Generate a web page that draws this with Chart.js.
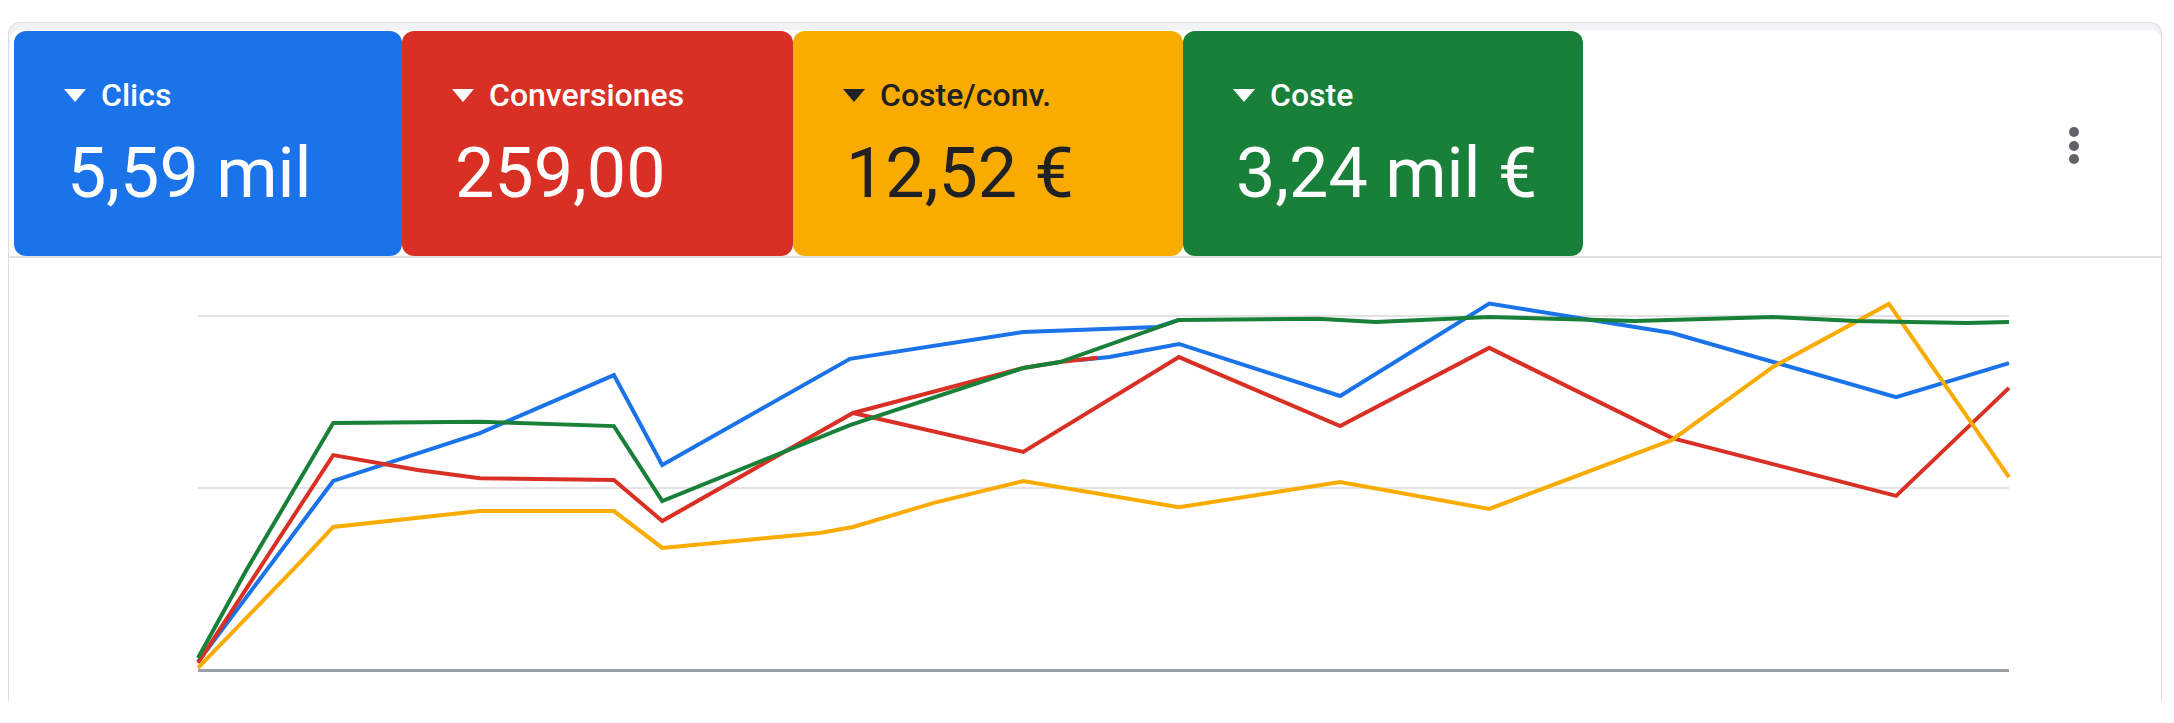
<!DOCTYPE html>
<html>
<head>
<meta charset="utf-8">
<script src="https://cdn.jsdelivr.net/npm/chart.js@4"></script>
<style>
  html, body { margin:0; padding:0; background:#fff; width:2174px; height:723px; overflow:hidden; font-family: Roboto, "Noto Sans", sans-serif; }
  .frame { position:absolute; left:8px; top:22px; width:2152px; height:678px; border:1px solid #dadce0; border-bottom:none; border-radius:12px 12px 0 0; background:#fff; box-shadow: inset 0 7px 0 #f1f3f4; }
  .card { position:absolute; top:31px; height:225px; border-radius:12px; }
  .card .tri { position:absolute; left:50px; top:58px; width:0; height:0; border-left:11px solid transparent; border-right:11px solid transparent; border-top:13px solid #fff; }
  .card .lab { position:absolute; left:87px; top:48px; font-size:32px; line-height:32px; font-weight:500; color:#fff; white-space:nowrap; }
  .card .val { position:absolute; left:53px; top:107px; font-size:70px; line-height:70px; color:#fff; white-space:nowrap; }
  .card.dark .lab, .card.dark .val { color:#202124; }
  .card.dark .tri { border-top-color:#202124; }
  .divider { position:absolute; left:9px; top:256px; width:2152px; height:2px; background:#e3e3e3; }
  .dot { position:absolute; left:2069px; width:10px; height:10px; border-radius:50%; background:#5f6368; }
  #wrap { position:absolute; left:0; top:260px; width:2174px; height:463px; }
</style>
</head>
<body>
<div class="frame"></div>
<div id="cards"></div>
<div class="divider"></div>
<div class="dot" style="top:127px"></div>
<div class="dot" style="top:141px"></div>
<div class="dot" style="top:154px"></div>
<div id="wrap"><canvas id="chart" width="2174" height="463"></canvas></div>
<script>
// tarjetas de métricas
const metricas = ['Clics', 'Conversiones', 'Coste/conv.', 'Coste'];
const totales = ['5,59 mil', '259,00', '12,52 €', '3,24 mil €'];
const colores = ['#1a73e8', '#d93025', '#f9ab00', '#188038'];

// series (x = día, y = valor relativo; null corta la línea)
const clicsDias = [0, 2.24, 4.67, 6.89, 7.69, 10.8, 13.67, 15.89, 16.25, 16.25, 14.6, 15.1, 16.25, 18.92, 21.39, 24.42, 28.13, 30];
const clicsVal  = [2.3, 53.4, 66.9, 83.3, 57.9, 87.9, 95.5, 96.9, 98.9, null, 87.6, 88.4, 92.1, 77.4, 103.5, 95.2, 77.1, 86.7];

const convDias = [0, 2.24, 3.64, 4.67, 6.89, 7.69, 10.85, 13.67, 16.25, 18.92, 21.39, 24.42, 28.13, 30, 30, 10.85, 13.67, 14.28, 14.9];
const convVal  = [2.0, 60.7, 56.5, 54.2, 53.7, 42.1, 72.6, 61.6, 88.4, 68.9, 91.0, 65.5, 49.2, 79.7, null, 72.6, 85.3, 87.0, 88.2];

const costeConvDias = [0, 1.73, 2.24, 4.67, 6.89, 7.69, 10.3, 10.85, 12.19, 13.67, 16.25, 18.92, 21.39, 24.42, 26.09, 28.01, 30];
const costeConvVal  = [0.6, 31.1, 40.4, 44.9, 44.9, 34.5, 38.7, 40.4, 47.2, 53.4, 46.0, 53.1, 45.5, 65.0, 85.6, 103.4, 54.5];

const costeDias = [0, 0.8, 2.24, 4.67, 6.89, 7.69, 10.8, 13.67, 14.28, 16.25, 18.55, 19.51, 21.39, 23.8, 26.09, 27.46, 29.3, 30];
const costeVal  = [3.4, 28.2, 69.8, 70.1, 68.9, 47.7, 69.2, 85.3, 87.0, 98.9, 99.2, 98.3, 99.7, 98.6, 99.7, 98.6, 98.0, 98.3];

const yTicks = [0, 51.4, 100];

const cardLeft = [14, 402, 793, 1183];
const cardWidth = [388, 391, 390, 400];

const cards = document.getElementById('cards');
metricas.forEach((m,i)=>{
  const c = document.createElement('div');
  c.className = 'card' + (i===2 ? ' dark' : '');
  c.style.left = cardLeft[i]+'px';
  c.style.width = cardWidth[i]+'px';
  c.style.background = colores[i];
  c.innerHTML = '<div class="tri"></div><div class="lab">'+m+'</div><div class="val">'+totales[i]+'</div>';
  cards.appendChild(c);
});

function pts(xs, ys){ return xs.map((x,i)=>({x:x, y:ys[i]})); }

function serie(data, color, order){
  return { data:data, borderColor:color, borderWidth:4, pointRadius:0, tension:0,
           fill:false, clip:false, spanGaps:false, order:order };
}

new Chart(document.getElementById('chart'), {
  type:'line',
  data:{
    datasets:[
      serie(pts(clicsDias, clicsVal), colores[0], 3),
      serie(pts(convDias, convVal), colores[1], 2),
      serie(pts(costeConvDias, costeConvVal), colores[2], 1),
      serie(pts(costeDias, costeVal), colores[3], 0)
    ]
  },
  options:{
    responsive:false,
    animation:false,
    events:[],
    layout:{ padding:{ left:198, right:165, top:56, bottom:53 } },
    plugins:{ legend:{display:false}, tooltip:{enabled:false} },
    scales:{
      x:{ type:'linear', min:0, max:30, display:false },
      y:{
        min:0, max:100,
        afterBuildTicks: ax => { ax.ticks = yTicks.map(v=>({value:v})); },
        ticks:{ display:false },
        border:{ display:false },
        grid:{
          drawTicks:false,
          color: ctx => ctx.tick && ctx.tick.value===0 ? '#9aa0a6' : '#e3e3e3',
          lineWidth: ctx => ctx.tick && ctx.tick.value===0 ? 3 : 2
        }
      }
    }
  }
});
</script>
</body>
</html>
